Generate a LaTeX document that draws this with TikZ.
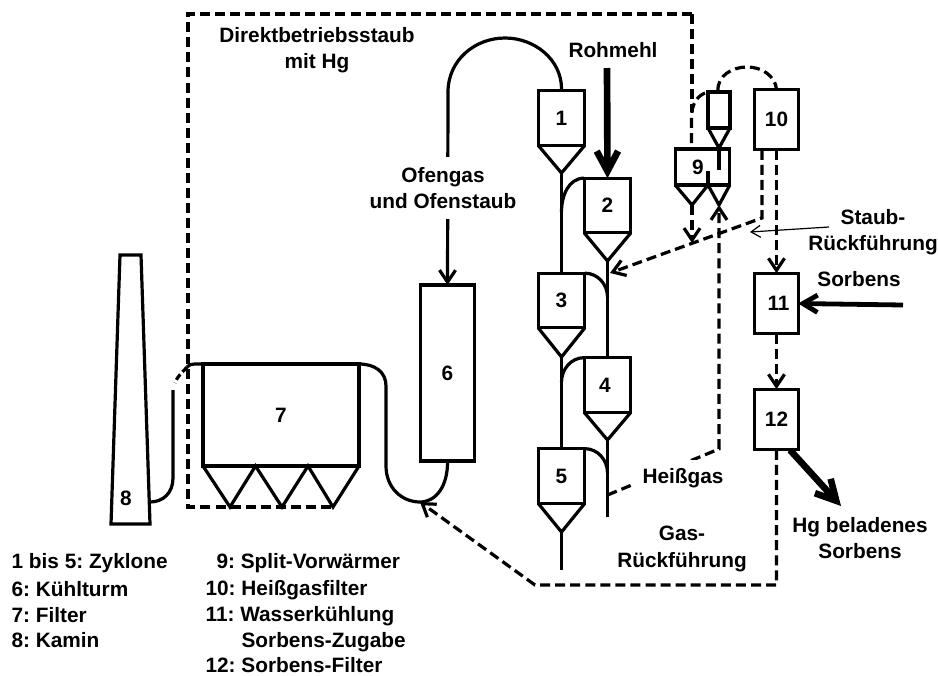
\documentclass[tikz,border=0pt]{standalone}
\usepackage{fontspec}
\setmainfont{Liberation Sans}
\usepackage{tikz}
\usetikzlibrary{arrows.meta}
\frenchspacing

\begin{document}
\begin{tikzpicture}[
  x=0.75pt, y=-0.75pt,
  font=\fontsize{15.6}{19.7}\selectfont\bfseries,
  line width=2.4pt,
  box/.style={draw=black, line width=2.4pt, outer sep=0pt, inner sep=0pt, align=center},
  zyk/.style={box, minimum width=35pt, minimum height=41pt},
  app/.style={box, minimum width=32.5pt},
  pipe/.style={draw=black, line width=2.4pt},
  dust/.style={draw=black, line width=2.4pt, dash pattern=on 7.5pt off 3.8pt},
  tipsm/.style={-{Straight Barb[length=9pt, width=12pt]}},
  thickar/.style={line width=5pt, -{Straight Barb[length=15pt, width=16pt]}},
  lbl/.style={align=center, inner sep=0pt},
  leg/.style={anchor=west, inner sep=0pt}
]
\useasboundingbox (0,0) rectangle (938,675);

% --- zyklone ---
\node[zyk] (c1) at (561.5,118) {1};
\node[zyk] (c2) at (607.5,205.5) {2};
\node[zyk] (c3) at (561.5,300.5) {3};
\node[zyk] (c4) at (607.5,385) {\kern-4pt 4};
\node[zyk] (c5) at (561.5,476) {5};
\coordinate (t1) at (561.5,173);
\coordinate (t2) at (607.5,261);
\coordinate (t3) at (561.5,357);
\coordinate (t4) at (607.5,440);
\coordinate (t5) at (561.5,532);
\foreach \n in {1,...,5}
  \draw[pipe] (c\n.south west) -- (t\n) -- (c\n.south east);

% --- kuehlturm, filter, kamin ---
\node[box, minimum width=41pt, minimum height=132pt] (c6) at (447.5,373) {6};
\node[box, minimum width=117pt, minimum height=76.5pt] (c7) at (281,415) {7};
\coordinate (f1) at (230,507);
\coordinate (f2) at (255.5,466);
\coordinate (f3) at (282,507);
\coordinate (f4) at (308,466);
\coordinate (f5) at (333,507);
\draw[pipe] (c7.south west) -- (f1) -- (f2) -- (f3) -- (f4) -- (f5) -- (c7.south east);
\draw[pipe, line join=miter] (120,255) -- (141,255) -- (150,524) -- (111,524) -- cycle;
\node[lbl] (c8) at (126,498) {8};
\coordinate (k8) at (150,502);

% --- split-vorwaermer ---
\node[box, minimum width=41pt, minimum height=27pt] (c9) at (702.5,167) {\kern-7pt 9};
\node[box, minimum width=16.5pt, minimum height=27pt] (c9b) at (719,110) {};
\coordinate (t9a) at (692,205);
\coordinate (t9m) at (708,185);
\coordinate (t9b) at (719,205);
\coordinate (t9c) at (719,148);
\draw[pipe] (c9.south west) -- (t9a) -- (t9m) -- (t9b) -- (c9.south east);
\draw[pipe] (c9b.south west) -- (t9c) -- (c9b.south east);
\draw[pipe] (t9c) -- (719,170);
\draw[pipe] (708,171) -- (t9m);

% --- filter 10 bis 12 ---
\node[app, minimum height=45.5pt] (c10) at (776.5,119.5) {10};
\node[app, minimum height=45.5pt] (c11) at (776.5,303.5) {\kern3pt 11};
\node[app, minimum height=45.5pt] (c12) at (776.5,419.5) {12};

% --- gas leitungen ---
\coordinate (j2) at (561.5,212);
\coordinate (j3) at (607.5,297);
\coordinate (j4) at (561.5,382);
\coordinate (j5) at (607.5,473);
\draw[pipe] (t1) -- (c3.north);
\draw[pipe] (c2.north west) to[out=180, in=90] (j2);
\draw[pipe] (t2) -- (c4.north);
\draw[pipe] (c3.north east) to[out=0, in=90] (j3);
\draw[pipe] (t3) -- (c5.north);
\draw[pipe] (c4.north west) to[out=180, in=90] (j4);
\coordinate (e4) at (607.5,517);
\draw[pipe] (t4) -- (e4);
\draw[pipe] (c5.north east) to[out=0, in=90] (j5);
\coordinate (e5) at (561.5,570);
\draw[pipe] (t5) -- (e5);
\coordinate (o1) at (448,92);
\draw[pipe] (c1.north) -- ++(0,-2) .. controls (561.5,60) and (535,38) .. (505,38)
  .. controls (475,38) and (448,60) .. (o1);
\draw[pipe, tipsm] (o1) -- (c6.north);
\coordinate (s7) at (386,386);
\coordinate (u6) at (420,502);
\draw[pipe] (c7.north east) .. controls (375,364) and (386,372) .. (s7) -- (386,466)
  .. controls (386,488) and (402,502) .. (u6)
  .. controls (436,502) and (448,486) .. (c6.south);
\coordinate (a7) at (187,367);
\coordinate (b7) at (175,383);
\draw[pipe] (c7.north west) -- (195,364) to[out=180, in=50] (a7);
\draw[pipe, dash pattern=on 5pt off 2.5pt] (a7) to[out=230, in=70] (b7);
\draw[pipe] (173,390) -- (173,478) .. controls (173,493) and (163,502) .. (k8);

% --- staub und rueckfuehrung ---
\coordinate (r1) at (188,14);
\coordinate (r2) at (692,14);
\coordinate (r3) at (188,507);
\draw[dust] (r2) -- (692,112);
\draw[dust] (692,14) -- (r1) -- (r3) -- (f5);
\coordinate (v9) at (691.5,143);
\draw[dust] (v9) -- (691.5,118) .. controls (691.5,104) and (697,95) .. (c9b.north west);
\draw[dust] (c9b.north) ++(-1,-1) .. controls (717,76) and (732,67) .. (747,67)
  .. controls (762,67) and (775,76) .. (c10.north);
\coordinate (g1) at (762,218);
\coordinate (g1e) at (610,273);
\draw[dust, tipsm] (c10.south -| g1) -- (g1) -- (g1e);
\draw[dust, tipsm] (c10.south) -- (c11.north);
\draw[dust, tipsm] (c11.south) -- (c12.north);
\coordinate (t9ae) at (692,243);
\draw[dust, tipsm] (t9a) -- (t9ae);
\coordinate (h1) at (607.5,495);
\coordinate (h2) at (719,449);
\draw[dust, tipsm] (h1) -- (h2) -- (t9b);
\coordinate (g2) at (776.5,585);
\coordinate (g3) at (535,585);
\draw[dust, tipsm] (c12.south) -- (g2) -- (g3) -- (u6);

% --- zufuhr ---
\coordinate (roh) at (607,68);
\draw[thickar] (roh) -- (c2.north);
\coordinate (sorb) at (903,305);
\draw[line width=3.6pt, -{Straight Barb[length=11pt, width=13pt]}] (sorb) -- (c11.east);
\coordinate (hg) at (841,506);
\draw[thickar] (790,450) -- (hg);
\coordinate (st) at (829,227);
\coordinate (st2) at (750,232);
\draw[line width=0.9pt, -{Straight Barb[length=7pt, width=9pt]}] (st) -- (st2);

% --- beschriftung ---
\node[lbl] (dir) at (317,50) {Direktbetriebsstaub\\mit Hg};
\node[lbl] (rm) at (613,50) {Rohmehl};
\node[lbl, fill=white, minimum width=131pt, minimum height=47pt] (ofen) at (443,188) {Ofengas\\und Ofenstaub};
\node[lbl] (stb) at (873,232) {Staub-\\Rückführung};
\node[lbl] (sbn) at (859,279) {Sorbens};
\node[lbl, fill=white, minimum width=77pt, minimum height=27.5pt] (hgas) at (683,478) {Heißgas};
\node[lbl] (grf) at (682,549) {Gas-\\Rückführung};
\node[lbl] (hgs) at (860,538) {Hg beladenes\\Sorbens};

% --- legende ---
\node[leg] (l1) at (10,563) {1 bis 5: Zyklone};
\node[leg] (l2) at (10,589) {6: Kühlturm};
\node[leg] (l3) at (10,615) {7: Filter};
\node[leg] (l4) at (10,640) {8: Kamin};
\node[leg] (l5) at (215,563) {9: Split-Vorwärmer};
\node[leg] (l6) at (204,590) {10: Heißgasfilter};
\node[leg] (l7) at (204,616) {11: Wasserkühlung};
\node[leg] (l8) at (240,642) {Sorbens-Zugabe};
\node[leg] (l9) at (204,665) {12: Sorbens-Filter};
\end{tikzpicture}
\end{document}
